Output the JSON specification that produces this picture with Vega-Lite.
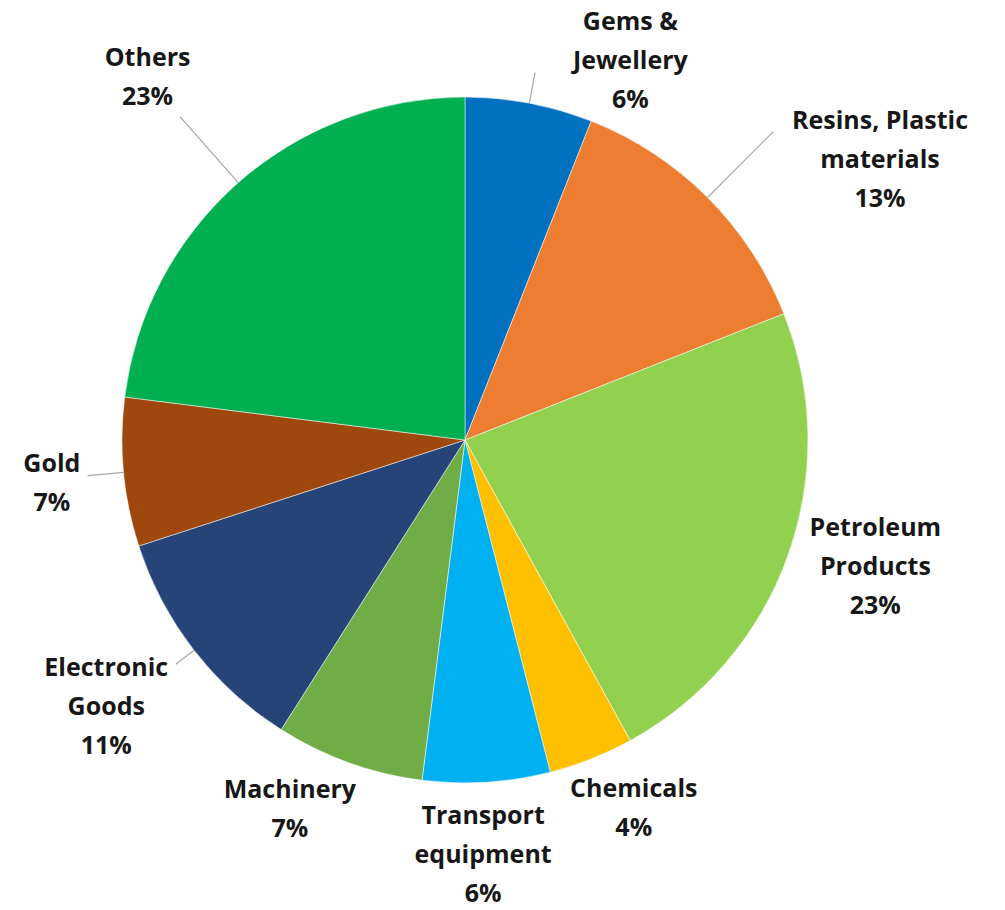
{
  "$schema": "https://vega.github.io/schema/vega-lite/v6.json",
  "autosize": {"type": "none"},
  "width": 930,
  "height": 880,
  "padding": {"left": 0, "top": 0, "right": 75, "bottom": 30},
  "background": "white",
  "config": {"view": {"stroke": null}, "text": {"font": "Open Sans", "fontWeight": "bold", "fontSize": 25, "lineHeight": 39, "fill": "#171717", "align": "center", "baseline": "middle"}},
  "data": {
    "values": [
      {"rank": 1, "category": "Gems & Jewellery", "value": 6, "label": ["Gems &", "Jewellery", "6%"]},
      {"rank": 2, "category": "Resins, Plastic materials", "value": 13, "label": ["Resins, Plastic", "materials", "13%"]},
      {"rank": 3, "category": "Petroleum Products", "value": 23, "label": ["Petroleum", "Products", "23%"]},
      {"rank": 4, "category": "Chemicals", "value": 4, "label": ["Chemicals", "4%"]},
      {"rank": 5, "category": "Transport equipment", "value": 6, "label": ["Transport", "equipment", "6%"]},
      {"rank": 6, "category": "Machinery", "value": 7, "label": ["Machinery", "7%"]},
      {"rank": 7, "category": "Electronic Goods", "value": 11, "label": ["Electronic", "Goods", "11%"]},
      {"rank": 8, "category": "Gold", "value": 7, "label": ["Gold", "7%"]},
      {"rank": 9, "category": "Others", "value": 23, "label": ["Others", "23%"]}
    ]
  },
  "transform": [
    {"stack": "value", "groupby": [], "sort": [{"field": "rank", "order": "ascending"}], "as": ["v0", "v1"]}
  ],
  "layer": [
    {
      "mark": {"type": "arc", "outerRadius": 343, "stroke": "white", "strokeWidth": 0.5},
      "encoding": {
        "theta": {"field": "v0", "type": "quantitative", "scale": {"domain": [0, 100]}},
        "theta2": {"field": "v1"},
        "color": {
          "field": "category",
          "type": "nominal",
          "scale": {
            "domain": ["Gems & Jewellery", "Resins, Plastic materials", "Petroleum Products", "Chemicals", "Transport equipment", "Machinery", "Electronic Goods", "Gold", "Others"],
            "range": ["#0070C0", "#ED7D31", "#92D050", "#FFC000", "#00B0F0", "#70AD47", "#264478", "#9E480E", "#00B050"]
          },
          "legend": null
        }
      }
    },
    {"transform": [{"filter": "datum.rank == 1"}], "mark": {"type": "arc", "innerRadius": 343, "outerRadius": 374, "padAngle": 3, "fill": null, "stroke": "#a6a6a6", "strokeWidth": 1.2}, "encoding": {"theta": {"field": "v0", "type": "quantitative"}, "theta2": {"field": "v1"}}},
    {"transform": [{"filter": "datum.rank == 2"}], "mark": {"type": "arc", "innerRadius": 343, "outerRadius": 436, "padAngle": 3, "fill": null, "stroke": "#a6a6a6", "strokeWidth": 1.2}, "encoding": {"theta": {"field": "v0", "type": "quantitative"}, "theta2": {"field": "v1"}}},
    {"transform": [{"filter": "datum.rank == 7"}], "mark": {"type": "arc", "innerRadius": 343, "outerRadius": 366, "padAngle": 3, "fill": null, "stroke": "#a6a6a6", "strokeWidth": 1.2}, "encoding": {"theta": {"field": "v0", "type": "quantitative"}, "theta2": {"field": "v1"}}},
    {"transform": [{"filter": "datum.rank == 8"}], "mark": {"type": "arc", "innerRadius": 343, "outerRadius": 379, "padAngle": 3, "fill": null, "stroke": "#a6a6a6", "strokeWidth": 1.2}, "encoding": {"theta": {"field": "v0", "type": "quantitative"}, "theta2": {"field": "v1"}}},
    {"transform": [{"filter": "datum.rank == 9"}], "mark": {"type": "arc", "innerRadius": 343, "outerRadius": 431, "padAngle": 3, "fill": null, "stroke": "#a6a6a6", "strokeWidth": 1.2}, "encoding": {"theta": {"field": "v0", "type": "quantitative"}, "theta2": {"field": "v1"}}},
    {"mark": {"type": "text", "radius": 386, "dx": 93, "dy": -39}, "encoding": {"theta": {"field": "value", "type": "quantitative", "stack": true}, "order": {"field": "rank", "type": "quantitative"}, "detail": {"field": "category"}, "text": {"condition": {"test": "datum.rank == 1", "field": "label"}, "value": ""}}},
    {"mark": {"type": "text", "radius": 396, "dx": 135, "dy": -39}, "encoding": {"theta": {"field": "value", "type": "quantitative", "stack": true}, "order": {"field": "rank", "type": "quantitative"}, "detail": {"field": "category"}, "text": {"condition": {"test": "datum.rank == 2", "field": "label"}, "value": ""}}},
    {"mark": {"type": "text", "radius": 434, "dx": 2, "dy": -59}, "encoding": {"theta": {"field": "value", "type": "quantitative", "stack": true}, "order": {"field": "rank", "type": "quantitative"}, "detail": {"field": "category"}, "text": {"condition": {"test": "datum.rank == 3", "field": "label"}, "value": ""}}},
    {"mark": {"type": "text", "radius": 396, "dx": 23, "dy": -19.5}, "encoding": {"theta": {"field": "value", "type": "quantitative", "stack": true}, "order": {"field": "rank", "type": "quantitative"}, "detail": {"field": "category"}, "text": {"condition": {"test": "datum.rank == 4", "field": "label"}, "value": ""}}},
    {"mark": {"type": "text", "radius": 416, "dx": -8, "dy": -39}, "encoding": {"theta": {"field": "value", "type": "quantitative", "stack": true}, "order": {"field": "rank", "type": "quantitative"}, "detail": {"field": "category"}, "text": {"condition": {"test": "datum.rank == 5", "field": "label"}, "value": ""}}},
    {"mark": {"type": "text", "radius": 393, "dx": -42, "dy": -19.5}, "encoding": {"theta": {"field": "value", "type": "quantitative", "stack": true}, "order": {"field": "rank", "type": "quantitative"}, "detail": {"field": "category"}, "text": {"condition": {"test": "datum.rank == 6", "field": "label"}, "value": ""}}},
    {"mark": {"type": "text", "radius": 454, "dx": 0, "dy": -50}, "encoding": {"theta": {"field": "value", "type": "quantitative", "stack": true}, "order": {"field": "rank", "type": "quantitative"}, "detail": {"field": "category"}, "text": {"condition": {"test": "datum.rank == 7", "field": "label"}, "value": ""}}},
    {"mark": {"type": "text", "radius": 417, "dx": 2, "dy": -15.5}, "encoding": {"theta": {"field": "value", "type": "quantitative", "stack": true}, "order": {"field": "rank", "type": "quantitative"}, "detail": {"field": "category"}, "text": {"condition": {"test": "datum.rank == 8", "field": "label"}, "value": ""}}},
    {"mark": {"type": "text", "radius": 480, "dx": 0, "dy": -22}, "encoding": {"theta": {"field": "value", "type": "quantitative", "stack": true}, "order": {"field": "rank", "type": "quantitative"}, "detail": {"field": "category"}, "text": {"condition": {"test": "datum.rank == 9", "field": "label"}, "value": ""}}}
  ]
}
